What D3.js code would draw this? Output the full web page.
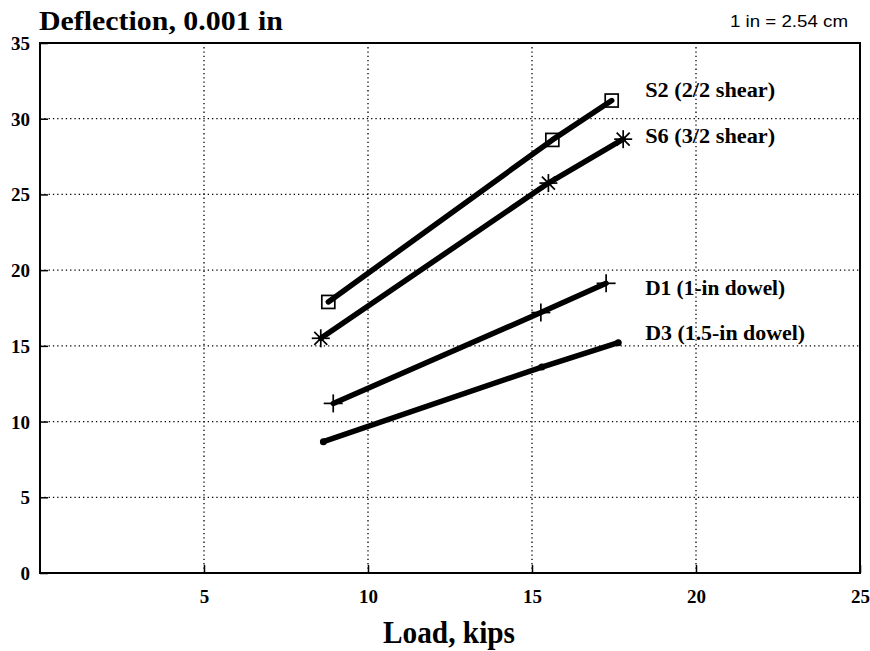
<!DOCTYPE html>
<html><head><meta charset="utf-8">
<script src="https://cdn.jsdelivr.net/npm/d3@7/dist/d3.min.js"></script>
<style>body{margin:0;background:#fff}svg{display:block}</style>
</head><body>
<script>
const xTicks = [5, 10, 15, 20, 25];
const yTicks = [0, 5, 10, 15, 20, 25, 30, 35];
const seriesNames = ["S2 (2/2 shear)", "S6 (3/2 shear)", "D1 (1-in dowel)", "D3 (1.5-in dowel)"];
const seriesMarkers = ["square", "star", "plus", "dot"];
const s2Load = [8.79, 15.62, 17.43];
const s2Defl = [17.9, 28.6, 31.2];
const s6Load = [8.56, 15.5, 17.78];
const s6Defl = [15.5, 25.75, 28.65];
const d1Load = [8.94, 15.27, 17.26];
const d1Defl = [11.2, 17.2, 19.13];
const d3Load = [8.64, 15.3, 17.63];
const d3Defl = [8.67, 13.6, 15.21];
const labelDefl = [31.45, 28.4, 18.35, 15.4];
const labelWidths = [130, 130, 140, 160];

const W = 870, H = 651;
const m = {l: 40, r: 10, t: 43, b: 78};
const serif = "Liberation Serif, Times New Roman, serif";
const svg = d3.select("body").append("svg").attr("width", W).attr("height", H);
const x = d3.scaleLinear().domain([0, 25]).range([m.l, W - m.r]);
const y = d3.scaleLinear().domain([0, 35]).range([H - m.b, m.t]);

// grid
const g = svg.append("g");
g.selectAll(".gx").data(xTicks.filter(d => d < 25)).enter().append("line")
  .attr("x1", d => x(d)).attr("x2", d => x(d)).attr("y1", y(0)).attr("y2", y(35))
  .attr("stroke", "#000").attr("stroke-width", 1.3).attr("stroke-dasharray", "1.3,3");
g.selectAll(".gy").data(yTicks.filter(d => d > 0 && d < 35)).enter().append("line")
  .attr("x1", x(0)).attr("x2", x(25)).attr("y1", d => y(d)).attr("y2", d => y(d))
  .attr("stroke", "#000").attr("stroke-width", 1.3).attr("stroke-dasharray", "1.3,3");

// axes
const xAxis = d3.axisBottom(x).tickValues(xTicks).tickSize(-8).tickPadding(30).tickFormat(d3.format("d"));
const yAxis = d3.axisLeft(y).tickValues(yTicks).tickSize(-8).tickPadding(10).tickFormat(d3.format("d"));
const ax = svg.append("g").attr("transform", `translate(0,${y(0)})`).call(xAxis);
const ay = svg.append("g").attr("transform", `translate(${x(0)},0)`).call(yAxis);
[ax, ay].forEach(a => {
  a.select(".domain").remove();
  a.selectAll("line").attr("stroke", "#000").attr("stroke-width", 1.5);
  a.selectAll("text").attr("font-family", serif)
    .attr("font-weight", "bold").attr("font-size", 19).attr("fill", "#000");
});
ax.selectAll("text").attr("dy", "0");
ay.selectAll("text").attr("dy", "0.34em");

// frame
svg.append("rect").attr("x", x(0)).attr("y", y(35)).attr("width", x(25) - x(0)).attr("height", y(0) - y(35))
  .attr("fill", "none").attr("stroke", "#000").attr("stroke-width", 2);

// series
const loads = [s2Load, s6Load, d1Load, d3Load];
const defls = [s2Defl, s6Defl, d1Defl, d3Defl];
const data = seriesNames.map((n, k) => ({
  name: n, marker: seriesMarkers[k], pts: loads[k].map((v, i) => [v, defls[k][i]]),
  ly: labelDefl[k], lw: labelWidths[k]
}));
const line = d3.line().x(d => x(d[0])).y(d => y(d[1]));
data.forEach(s => {
  svg.append("path").attr("d", line(s.pts)).attr("fill", "none").attr("stroke", "#000")
    .attr("stroke-width", 5.5).attr("stroke-linecap", "round").attr("stroke-linejoin", "round");
  s.pts.forEach(p => {
    const cx = x(p[0]), cy = y(p[1]);
    const mg = svg.append("g").attr("transform", `translate(${cx},${cy})`);
    if (s.marker === "square") {
      mg.append("rect").attr("x", -6.5).attr("y", -6.5).attr("width", 13).attr("height", 13)
        .attr("fill", "none").attr("stroke", "#000").attr("stroke-width", 1.7);
    } else if (s.marker === "star") {
      [[-9,0,9,0],[0,-9,0,9],[-6.5,-6.5,6.5,6.5],[-6.5,6.5,6.5,-6.5]].forEach(l =>
        mg.append("line").attr("x1", l[0]).attr("y1", l[1]).attr("x2", l[2]).attr("y2", l[3])
          .attr("stroke", "#000").attr("stroke-width", 1.7));
    } else if (s.marker === "plus") {
      [[-9.5,0,9.5,0],[0,-9,0,9]].forEach(l =>
        mg.append("line").attr("x1", l[0]).attr("y1", l[1]).attr("x2", l[2]).attr("y2", l[3])
          .attr("stroke", "#000").attr("stroke-width", 1.7));
    } else if (s.marker === "dot") {
      mg.append("circle").attr("r", 3.5).attr("fill", "#000");
    }
  });
  svg.append("text").attr("x", x(18.45)).attr("y", y(s.ly)).text(s.name)
    .attr("font-family", serif).attr("font-weight", "bold")
    .attr("font-size", 20).attr("fill", "#000")
    .attr("textLength", s.lw).attr("lengthAdjust", "spacingAndGlyphs");
});

// titles
svg.append("text").attr("x", 39).attr("y", 30).text("Deflection, 0.001 in")
  .attr("font-family", serif).attr("font-weight", "bold")
  .attr("font-size", 27).attr("fill", "#000")
  .attr("textLength", 244).attr("lengthAdjust", "spacingAndGlyphs");
svg.append("text").attr("x", 730).attr("y", 27).text("1 in = 2.54 cm")
  .attr("font-family", "Liberation Sans, Arial, sans-serif").attr("font-size", 16).attr("fill", "#000")
  .attr("textLength", 118).attr("lengthAdjust", "spacingAndGlyphs");
svg.append("text").attr("x", 383).attr("y", 643).text("Load, kips")
  .attr("font-family", serif).attr("font-weight", "bold")
  .attr("font-size", 31).attr("fill", "#000")
  .attr("textLength", 132).attr("lengthAdjust", "spacingAndGlyphs");
</script>
</body></html>
